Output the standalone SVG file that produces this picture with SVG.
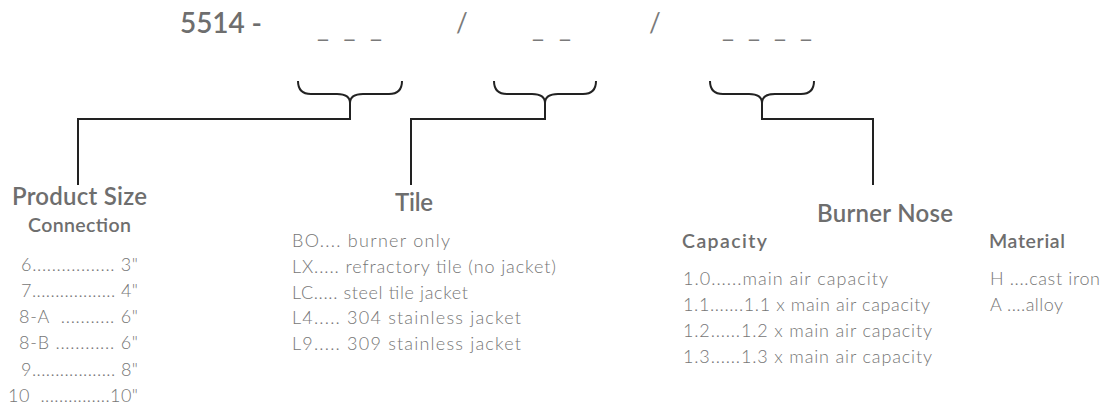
<svg xmlns="http://www.w3.org/2000/svg" width="1102" height="406" viewBox="0 0 1102 406">
<style>
text{font-family:"Lato","Open Sans","Liberation Sans",sans-serif;fill:#6e6e6e}
.hd{font-size:28px;font-weight:600}
.ds{font-size:26px;font-weight:400;fill:#7a7a7a}
.h1{font-size:24px;font-weight:600}
.h2{font-size:19.5px;font-weight:600}
.it{font-size:18px;font-weight:300;fill:#767676}
.ln{fill:none;stroke:#222;stroke-width:2}
</style>
<rect width="1102" height="406" fill="#fff"/>
<g id="header">
<text class="hd" x="180" y="33" textLength="82">5514 -</text>
<text class="ds" x="317" y="37" textLength="65">_ _ _</text>
<text class="ds" x="456" y="32">/</text>
<text class="ds" x="532" y="37" textLength="39">_ _</text>
<text class="ds" x="649" y="32">/</text>
<text class="ds" x="722" y="37" textLength="90">_ _ _ _</text>
</g>
<g id="connectors">
<path class="ln" d="M298,81 Q298,94 311,94 L337,94 Q350,94 350,103 Q350,94 363,94 L389,94 Q402,94 402,81"/>
<path class="ln" d="M494,81 Q494,94 507,94 L532,94 Q545,94 545,103 Q545,94 558,94 L583,94 Q596,94 596,81"/>
<path class="ln" d="M710,81 Q710,94 723,94 L749,94 Q762,94 762,103 Q762,94 775,94 L801,94 Q814,94 814,81"/>
<path class="ln" d="M350,103 V119 H78 V185"/>
<path class="ln" d="M545,103 V119 H411 V185"/>
<path class="ln" d="M762,103 V119 H873 V185"/>
</g>
<g id="product-size">
<text class="h1" x="12" y="205" textLength="135">Product Size</text>
<text class="h2" x="28" y="232" textLength="103">Connection</text>
<text class="it" x="21" y="271" textLength="117">6................. 3"</text>
<text class="it" x="21" y="297" textLength="117">7.................. 4"</text>
<text class="it" x="19" y="323" textLength="119">8-A&#160;&#160;........... 6"</text>
<text class="it" x="19" y="349" textLength="119">8-B ............ 6"</text>
<text class="it" x="21" y="376" textLength="117">9.................. 8"</text>
<text class="it" x="8" y="402" textLength="130">10&#160;&#160;...............10"</text>
</g>
<g id="tile">
<text class="h1" x="395" y="211" textLength="38">Tile</text>
<text class="it" x="292" y="247" textLength="158">BO.... burner only</text>
<text class="it" x="292" y="273" textLength="264">LX..... refractory tile (no jacket)</text>
<text class="it" x="292" y="299" textLength="176">LC..... steel tile jacket</text>
<text class="it" x="292" y="324" textLength="229">L4..... 304 stainless jacket</text>
<text class="it" x="292" y="350" textLength="229">L9..... 309 stainless jacket</text>
</g>
<g id="burner-nose">
<text class="h1" x="817" y="222" textLength="136">Burner Nose</text>
<text class="h2" x="682" y="248" textLength="85">Capacity</text>
<text class="it" x="683" y="285" textLength="205">1.0......main air capacity</text>
<text class="it" x="683" y="311" textLength="247">1.1.......1.1 x main air capacity</text>
<text class="it" x="683" y="337" textLength="249">1.2......1.2 x main air capacity</text>
<text class="it" x="683" y="363" textLength="249">1.3......1.3 x main air capacity</text>
<text class="h2" x="989" y="248" textLength="76">Material</text>
<text class="it" x="990" y="285" textLength="110">H ....cast iron</text>
<text class="it" x="990" y="311" textLength="73">A ....alloy</text>
</g>
</svg>
